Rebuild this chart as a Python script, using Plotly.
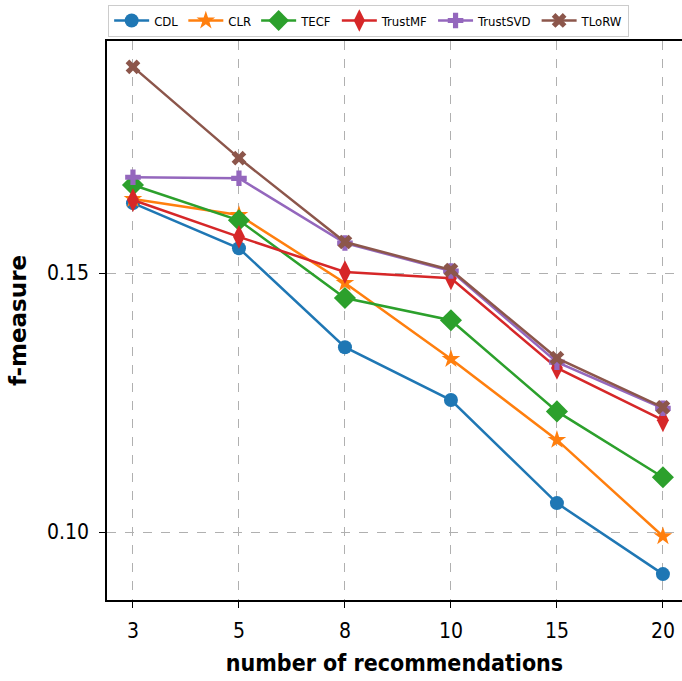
import plotly.graph_objects as go

# number of recommendations (shown as evenly spaced categories)
n_recs = ["3", "5", "8", "10", "15", "20"]

cdl = [0.1635, 0.1548, 0.1357, 0.1255, 0.1056, 0.0919]
clr = [0.1643, 0.1612, 0.1481, 0.1334, 0.1178, 0.0992]
tecf = [0.1670, 0.1602, 0.1452, 0.1409, 0.1233, 0.1106]
trustmf = [0.1641, 0.1570, 0.1502, 0.1490, 0.1317, 0.1216]
trustsvd = [0.1685, 0.1683, 0.1558, 0.1504, 0.1328, 0.1239]
tlorw = [0.1898, 0.1722, 0.1560, 0.1506, 0.1336, 0.1241]

series = [
    ("CDL", cdl, "#1f77b4", "circle", 14),
    ("CLR", clr, "#ff7f0e", "star", 14),
    ("TECF", tecf, "#2ca02c", "diamond", 17),
    ("TrustMF", trustmf, "#d62728", "diamond-tall", 17),
    ("TrustSVD", trustsvd, "#9467bd", "cross", 13),
    ("TLoRW", tlorw, "#8c564b", "x", 13),
]

fig = go.Figure()
for name, vals, color, symbol, size in series:
    fig.add_trace(go.Scatter(
        x=n_recs, y=vals, name=name, mode="lines+markers",
        line=dict(color=color, width=2.5),
        marker=dict(symbol=symbol, size=size, color=color, line=dict(width=0)),
    ))

font = "DejaVu Sans, sans-serif"
cond = "DejaVu Sans Condensed, DejaVu Sans, sans-serif"
fig.update_layout(
    width=682, height=681,
    margin=dict(l=107, r=0, t=41, b=81),
    paper_bgcolor="white", plot_bgcolor="white",
    font=dict(family=font, color="black"),
    showlegend=True,
    legend=dict(
        orientation="h", x=0.002, y=1.008, xanchor="left", yanchor="bottom",
        bordercolor="#cccccc", borderwidth=1, bgcolor="white",
        font=dict(family=cond, size=13),
        itemwidth=35, tracegroupgap=0,
    ),
    xaxis=dict(
        type="category", range=[-0.245, 5.18],
        showline=True, linecolor="black", linewidth=1.5, mirror=True,
        ticks="outside", ticklen=6, tickwidth=1.2, tickcolor="black",
        ticklabelstandoff=5,
        showgrid=True, gridcolor="#b0b0b0", griddash="dash", gridwidth=1,
        tickfont=dict(size=21, family=cond),
        title=dict(text="<b>number of recommendations</b>", font=dict(size=23, family=cond), standoff=13),
        zeroline=False,
    ),
    yaxis=dict(
        range=[0.0869, 0.1948],
        tickvals=[0.10, 0.15], ticktext=["0.10", "0.15"],
        showline=True, linecolor="black", linewidth=1.5, mirror=False,
        ticks="outside", ticklen=6, tickwidth=1.2, tickcolor="black",
        ticklabelstandoff=6,
        showgrid=True, gridcolor="#b0b0b0", griddash="dash", gridwidth=1,
        tickfont=dict(size=21, family=cond),
        title=dict(text="<b>f-measure</b>", font=dict(size=23, family=font), standoff=14),
        zeroline=False,
    ),
)

fig.write_html("out.html")
